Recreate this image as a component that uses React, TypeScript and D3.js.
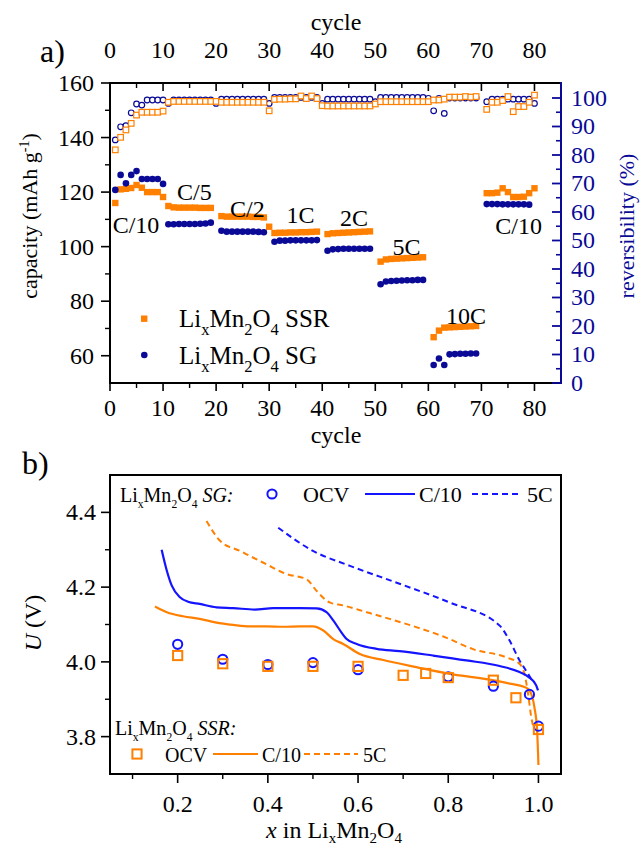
import React from "react";
import * as d3 from "d3";

// ---------- Panel a data (cycles 1..80) ----------
const cycles: number[] = d3.range(1, 81);

const ssrCapacity: (number | null)[] = [
  116, 121, 121.2, 121.5, 122.6, 121.6, 120, 120, 120, 118.2,
  114.9, 114.4, 114.3, 114.3, 114.3, 114.3, 114.2, 114.2, 114.2, null,
  111.2, 111, 111, 111, 111, 111, 110.9, 110.9, 110.7, 107.3,
  105, 105.1, 105.1, 105.2, 105.2, 105.3, 105.3, 105.4, 105.5, null,
  104.6, 104.9, 105, 105.1, 105.2, 105.3, 105.4, 105.5, 105.6, null,
  94.5, 95.3, 95.5, 95.6, 95.7, 95.8, 95.9, 96, 96.1, null,
  66.8, 69.2, 70.3, 70.4, 70.5, 70.6, 70.7, 70.8, 70.9, null,
  119.6, 119.6, 119.8, 121.4, 120, 118.2, 118.2, 118.3, 119.6, 121.4,
];

const sgCapacity: (number | null)[] = [
  120.8, 126.3, 123.2, 126.3, 127.7, 124.8, 124.8, 124.8, 124.8, 123,
  108.2, 108.2, 108.3, 108.3, 108.3, 108.3, 108.4, 108.5, 108.8, null,
  105.8, 105.5, 105.5, 105.5, 105.5, 105.5, 105.5, 105.4, 105.3, null,
  101.8, 102.2, 102.2, 102.3, 102.3, 102.3, 102.3, 102.3, 102.4, null,
  98.5, 99, 99.1, 99.2, 99.2, 99.2, 99.2, 99.2, 99.2, null,
  86.2, 87.2, 87.4, 87.5, 87.6, 87.7, 87.7, 87.8, 87.8, null,
  56.6, 59, 56.6, 60.5, 60.6, 60.7, 60.7, 60.8, 60.8, null,
  115.6, 115.6, 115.6, 115.5, 115.5, 115.5, 115.5, 115.5, 115.4, null,
];

const ssrReversibility: (number | null)[] = [
  81.8, 86.2, 88.8, 91.1, 94.0, 95.0, 95.0, 95.0, 95.0, 95.4,
  98.5, 98.8, 98.8, 98.8, 98.8, 98.8, 98.8, 98.8, 98.8, 98.8,
  98.5, 98.5, 98.5, 98.5, 98.5, 98.5, 98.5, 98.5, 98.5, 95.5,
  99.5, 99.6, 99.6, 99.7, 99.7, 100.7, 99.8, 100.7, 99.8, 97.3,
  97.2, 97.2, 97.2, 97.2, 97.2, 97.2, 97.2, 97.2, 97.2, 97.9,
  98.7, 98.7, 98.7, 98.7, 98.7, 98.7, 98.7, 98.7, 98.7, 98.7,
  99.3, 99.3, 99.6, 100.3, 100.3, 100.3, 100.5, 100.3, 100.5, null,
  96.0, 98.5, 98.5, 99.1, 100.5, 95.2, 97.0, 97.0, 98.5, 101.0,
];

const sgReversibility: (number | null)[] = [
  85.3, 89.9, 90.3, 94.8, 97.9, 97.5, 99.3, 99.3, 99.3, 99.3,
  98.1, 99.3, 99.3, 99.3, 99.3, 99.3, 99.3, 99.3, 99.3, 98.1,
  99.6, 99.6, 99.6, 99.6, 99.6, 99.6, 99.6, 99.6, 99.6, 98.1,
  100.2, 100.2, 100.2, 100.2, 100.2, 100.2, 100.2, 100.2, 100.2, 98.1,
  99.6, 99.6, 99.6, 99.6, 99.6, 99.6, 99.6, 99.6, 99.6, 98.7,
  100.2, 100.2, 100.2, 100.2, 100.2, 100.2, 100.2, 100.2, 100.2, 99.9,
  95.5, 99.9, 94.6, 100, 100, 100, 100, 100, 100, null,
  98.7, 99.6, 99.6, 99.6, 99.6, 99.6, 99.6, 99.6, 99.6, 98.1,
];

const rateLabels = ["C/10", "C/5", "C/2", "1C", "2C", "5C", "10C", "C/10"];
const rateLabelCycle = [4.9, 15.9, 25.9, 35.9, 46, 55.9, 67.1, 77];
const rateLabelCapacity = [105, 117.1, 110.9, 108.7, 107.6, 96.9, 71.6, 104.6];

// ---------- Panel b data ----------
const sgOcvX = [0.2, 0.3, 0.4, 0.5, 0.6, 0.8, 0.9, 0.98, 1.0];
const sgOcvU = [4.047, 4.007, 3.993, 3.998, 3.979, 3.96, 3.935, 3.913, 3.828];
const ssrOcvX = [0.2, 0.3, 0.4, 0.5, 0.6, 0.7, 0.75, 0.8, 0.9, 0.95, 1.0];
const ssrOcvU = [4.017, 3.995, 3.988, 3.988, 3.988, 3.964, 3.969, 3.958, 3.951, 3.904, 3.819];

const sgC10X = [0.1645, 0.176, 0.187, 0.205, 0.223, 0.249, 0.286, 0.323, 0.371, 0.412, 0.471, 0.508, 0.53, 0.545, 0.563, 0.574, 0.597, 0.641, 0.692, 0.766, 0.84, 0.914, 0.958, 0.98, 0.995, 0.999];
const sgC10U = [4.3, 4.244, 4.204, 4.173, 4.161, 4.155, 4.146, 4.144, 4.14, 4.144, 4.144, 4.143, 4.133, 4.111, 4.079, 4.062, 4.048, 4.035, 4.029, 4.017, 4.004, 3.989, 3.973, 3.958, 3.937, 3.924];

const ssrC10X = [0.1497, 0.176, 0.212, 0.249, 0.286, 0.323, 0.36, 0.397, 0.434, 0.471, 0.5, 0.523, 0.545, 0.567, 0.604, 0.656, 0.729, 0.803, 0.877, 0.936, 0.969, 0.98, 0.991, 0.997, 1.0];
const ssrC10U = [4.148, 4.133, 4.122, 4.115, 4.105, 4.099, 4.095, 4.095, 4.094, 4.095, 4.095, 4.084, 4.061, 4.048, 4.021, 4.005, 3.986, 3.968, 3.955, 3.942, 3.933, 3.924, 3.879, 3.817, 3.724];

const sg5CX = [0.423, 0.5, 0.582, 0.692, 0.803, 0.914, 0.936, 0.958, 0.977, 0.988];
const sg5CU = [4.359, 4.297, 4.257, 4.209, 4.159, 4.097, 4.057, 4.004, 3.968, 3.945];

const ssr5CX = [0.264, 0.294, 0.338, 0.397, 0.441, 0.486, 0.508, 0.537, 0.567, 0.619, 0.67, 0.729, 0.789, 0.855, 0.929, 0.958, 0.969, 0.977, 0.984, 0.991];
const ssr5CU = [4.377, 4.324, 4.297, 4.261, 4.235, 4.221, 4.19, 4.159, 4.151, 4.133, 4.115, 4.093, 4.068, 4.034, 4.012, 3.995, 3.968, 3.915, 3.853, 3.817];

// ---------- styling ----------
const FONT = "'Liberation Serif', 'Times New Roman', serif";
const ORANGE = "#FF8000";
const NAVY = "#0A0A96";
const BLUE = "#1414FF";

type ChemProps = {
  x: number; y: number; size: number; suffix?: string; italicSuffix?: boolean; subScale?: number;
};
function Chem({ x, y, size, suffix = "", italicSuffix = false, subScale = 0.62 }: ChemProps) {
  const s = size * subScale;
  const d = size * 0.3;
  return (
    <text x={x} y={y} fontSize={size} fontFamily={FONT} fill="#000">
      Li
      <tspan dy={d} fontSize={s}>x</tspan>
      <tspan dy={-d}>Mn</tspan>
      <tspan dy={d} fontSize={s}>2</tspan>
      <tspan dy={-d}>O</tspan>
      <tspan dy={d} fontSize={s}>4</tspan>
      <tspan dy={-d} fontStyle={italicSuffix ? "italic" : "normal"}>{suffix}</tspan>
    </text>
  );
}

export default function App() {
  const xA = d3.scaleLinear().domain([0, 85]).range([110, 561]);
  const yCap = d3.scaleLinear().domain([50, 160]).range([383, 83]);
  const yRev = d3.scaleLinear().domain([0, 105.26]).range([383, 83]);
  const xB = d3.scaleLinear().domain([0.05, 1.05]).range([110, 561]);
  const yB = d3.scaleLinear().domain([3.7, 4.5]).range([774, 475]);

  const cycMajor = d3.range(0, 81, 10);
  const cycMinor = d3.range(5, 81, 10);
  const capMajor = d3.range(60, 161, 20);
  const capMinor = d3.range(70, 151, 20);
  const revMajor = d3.range(0, 101, 10);
  const revMinor = d3.range(5, 101, 10);
  const xbMajor = [0.2, 0.4, 0.6, 0.8, 1.0];
  const xbMinor = [0.1, 0.3, 0.5, 0.7, 0.9];
  const ybMajor = [3.8, 4.0, 4.2, 4.4];
  const ybMinor = [3.9, 4.1, 4.3];

  const mk = (xs: number[], ys: number[]) => xs.map((v, i) => [v, ys[i]] as [number, number]);
  const lineB = d3
    .line<[number, number]>()
    .x((d) => xB(d[0]))
    .y((d) => yB(d[1]))
    .curve(d3.curveMonotoneX);

  const pts = (vals: (number | null)[]) =>
    cycles.map((c, i) => ({ c, v: vals[i] })).filter((d) => d.v !== null) as { c: number; v: number }[];

  const tickFont = 24;

  return (
    <svg
      width={641}
      height={849}
      viewBox="0 0 641 849"
      style={{ position: "absolute", left: 0, top: 0, background: "#fff" }}
      fontFamily={FONT}
    >
      <rect x={0} y={0} width={641} height={849} fill="#fff" />

      {/* ================= Panel a ================= */}
      <text x={40} y={62} fontSize={32} fontFamily={FONT}>a)</text>
      <text x={336} y={30} fontSize={24} textAnchor="middle">cycle</text>
      <text x={336} y={443} fontSize={24} textAnchor="middle">cycle</text>

      {/* frame lines */}
      <line x1={110} y1={83} x2={561} y2={83} stroke="#000" strokeWidth={2} />
      <line x1={110} y1={383} x2={561} y2={383} stroke="#000" strokeWidth={2} />
      <line x1={110} y1={82} x2={110} y2={384} stroke="#000" strokeWidth={2} />

      {/* bottom ticks (outward) */}
      {cycMajor.map((t) => (
        <g key={"bM" + t}>
          <line x1={xA(t)} x2={xA(t)} y1={383} y2={391} stroke="#000" strokeWidth={1.6} />
          <text x={xA(t)} y={416} fontSize={tickFont} textAnchor="middle">{t}</text>
        </g>
      ))}
      {cycMinor.map((t) => (
        <line key={"bm" + t} x1={xA(t)} x2={xA(t)} y1={383} y2={388} stroke="#000" strokeWidth={1.4} />
      ))}
      {/* top ticks (inward) */}
      {cycMajor.map((t) => (
        <g key={"tM" + t}>
          <line x1={xA(t)} x2={xA(t)} y1={83} y2={91} stroke="#000" strokeWidth={1.6} />
          <text x={xA(t)} y={58} fontSize={tickFont} textAnchor="middle">{t}</text>
        </g>
      ))}
      {cycMinor.map((t) => (
        <line key={"tm" + t} x1={xA(t)} x2={xA(t)} y1={83} y2={88} stroke="#000" strokeWidth={1.4} />
      ))}
      {/* left ticks */}
      {capMajor.map((t) => (
        <g key={"lM" + t}>
          <line x1={101} x2={110} y1={yCap(t)} y2={yCap(t)} stroke="#000" strokeWidth={1.6} />
          <text x={94} y={yCap(t) + 8} fontSize={tickFont} textAnchor="end">{t}</text>
        </g>
      ))}
      {capMinor.map((t) => (
        <line key={"lm" + t} x1={105} x2={110} y1={yCap(t)} y2={yCap(t)} stroke="#000" strokeWidth={1.4} />
      ))}
      {/* right axis (reversibility) */}
      <line x1={561} y1={82} x2={561} y2={384} stroke={NAVY} strokeWidth={2} />
      {revMajor.map((t) => (
        <g key={"rM" + t}>
          <line x1={552} x2={561} y1={yRev(t)} y2={yRev(t)} stroke={NAVY} strokeWidth={1.8} />
          <text x={571} y={yRev(t) + 8} fontSize={tickFont} fill={NAVY}>{t}</text>
        </g>
      ))}
      {revMinor.map((t) => (
        <line key={"rm" + t} x1={556} x2={561} y1={yRev(t)} y2={yRev(t)} stroke={NAVY} strokeWidth={1.6} />
      ))}

      {/* axis titles */}
      <text transform="translate(37,216) rotate(-90)" fontSize={22} textAnchor="middle">
        capacity (mAh g<tspan dy={-8} fontSize={14}>-1</tspan><tspan dy={8}>)</tspan>
      </text>
      <text transform="translate(634,226) rotate(-90)" fontSize={22} textAnchor="middle" fill={NAVY}>
        reversibility (%)
      </text>

      {/* reversibility markers */}
      {pts(sgReversibility).map((d) => (
        <circle key={"sr" + d.c} cx={xA(d.c)} cy={yRev(d.v)} r={2.8} fill="#fff" stroke={NAVY} strokeWidth={1.2} />
      ))}
      {pts(ssrReversibility).map((d) => (
        <rect key={"or" + d.c} x={xA(d.c) - 2.8} y={yRev(d.v) - 2.8} width={5.6} height={5.6} fill="#fff" stroke={ORANGE} strokeWidth={1.2} />
      ))}

      {/* capacity markers */}
      {pts(ssrCapacity).map((d) => (
        <rect key={"oc" + d.c} x={xA(d.c) - 3.2} y={yCap(d.v) - 3.2} width={6.4} height={6.4} fill={ORANGE} />
      ))}
      {pts(sgCapacity).map((d) => (
        <circle key={"sc" + d.c} cx={xA(d.c)} cy={yCap(d.v)} r={3.3} fill={NAVY} />
      ))}

      {/* rate labels */}
      {rateLabels.map((l, i) => (
        <text key={"rl" + i} x={xA(rateLabelCycle[i])} y={yCap(rateLabelCapacity[i])} fontSize={24} textAnchor="middle">{l}</text>
      ))}

      {/* legend a */}
      <rect x={141} y={315.5} width={6.4} height={6.4} fill={ORANGE} />
      <Chem x={179} y={327} size={25} suffix=" SSR" subScale={0.66} />
      <circle cx={144.3} cy={355} r={3.3} fill={NAVY} />
      <Chem x={179} y={364} size={25} suffix=" SG" subScale={0.66} />

      {/* ================= Panel b ================= */}
      <text x={22} y={474} fontSize={32}>b)</text>
      <rect x={110} y={475} width={451} height={299} fill="none" stroke="#000" strokeWidth={2} />

      {xbMajor.map((t) => (
        <g key={"xbM" + t}>
          <line x1={xB(t)} x2={xB(t)} y1={774} y2={783} stroke="#000" strokeWidth={1.6} />
          <text x={xB(t)} y={812} fontSize={tickFont} textAnchor="middle">{t.toFixed(1)}</text>
        </g>
      ))}
      {xbMinor.map((t) => (
        <line key={"xbm" + t} x1={xB(t)} x2={xB(t)} y1={774} y2={779} stroke="#000" strokeWidth={1.4} />
      ))}
      {ybMajor.map((t) => (
        <g key={"ybM" + t}>
          <line x1={101} x2={110} y1={yB(t)} y2={yB(t)} stroke="#000" strokeWidth={1.6} />
          <text x={96} y={yB(t) + 8} fontSize={tickFont} textAnchor="end">{t.toFixed(1)}</text>
        </g>
      ))}
      {ybMinor.map((t) => (
        <line key={"ybm" + t} x1={105} x2={110} y1={yB(t)} y2={yB(t)} stroke="#000" strokeWidth={1.4} />
      ))}

      {/* axis titles b */}
      <text x={334} y={838} fontSize={24} textAnchor="middle">
        <tspan fontStyle="italic">x</tspan> in Li<tspan dy={5} fontSize={15}>x</tspan><tspan dy={-5}>Mn</tspan><tspan dy={5} fontSize={15}>2</tspan><tspan dy={-5}>O</tspan><tspan dy={5} fontSize={15}>4</tspan>
      </text>
      <text transform="translate(41,623) rotate(-90)" fontSize={24} textAnchor="middle">
        <tspan fontStyle="italic">U</tspan> (V)
      </text>

      {/* curves */}
      <path d={lineB(mk(ssr5CX, ssr5CU)) || ""} fill="none" stroke={ORANGE} strokeWidth={2} strokeDasharray="6,4" />
      <path d={lineB(mk(sg5CX, sg5CU)) || ""} fill="none" stroke={BLUE} strokeWidth={2} strokeDasharray="6,4" />
      <path d={lineB(mk(sgC10X, sgC10U)) || ""} fill="none" stroke={BLUE} strokeWidth={2.2} />
      <path d={lineB(mk(ssrC10X, ssrC10U)) || ""} fill="none" stroke={ORANGE} strokeWidth={2.2} />

      {/* OCV markers */}
      {sgOcvX.map((x, i) => (
        <circle key={"oc" + i} cx={xB(x)} cy={yB(sgOcvU[i])} r={4.6} fill="none" stroke={BLUE} strokeWidth={2} />
      ))}
      {ssrOcvX.map((x, i) => (
        <rect key={"os" + i} x={xB(x) - 4.6} y={yB(ssrOcvU[i]) - 4.6} width={9.2} height={9.2} fill="none" stroke={ORANGE} strokeWidth={2} />
      ))}

      {/* legend b top */}
      <Chem x={120} y={502} size={20} suffix=" SG:" italicSuffix subScale={0.58} />
      <circle cx={272} cy={494} r={4.6} fill="none" stroke={BLUE} strokeWidth={2} />
      <text x={303} y={502} fontSize={22}>OCV</text>
      <line x1={365} x2={415} y1={494} y2={494} stroke={BLUE} strokeWidth={2.2} />
      <text x={419} y={502} fontSize={22}>C/10</text>
      <line x1={472} x2={522} y1={494} y2={494} stroke={BLUE} strokeWidth={2} strokeDasharray="6,4" />
      <text x={527} y={502} fontSize={22}>5C</text>

      {/* legend b bottom */}
      <Chem x={115} y={735} size={20} suffix=" SSR:" italicSuffix subScale={0.58} />
      <rect x={137 - 4.6} y={754 - 4.6} width={9.2} height={9.2} fill="none" stroke={ORANGE} strokeWidth={2} />
      <text x={165} y={762} fontSize={20}>OCV</text>
      <line x1={213} x2={258} y1={754} y2={754} stroke={ORANGE} strokeWidth={2.2} />
      <text x={262} y={762} fontSize={20}>C/10</text>
      <line x1={304} x2={358} y1={754} y2={754} stroke={ORANGE} strokeWidth={2} strokeDasharray="6,4" />
      <text x={363} y={762} fontSize={20}>5C</text>
    </svg>
  );
}
